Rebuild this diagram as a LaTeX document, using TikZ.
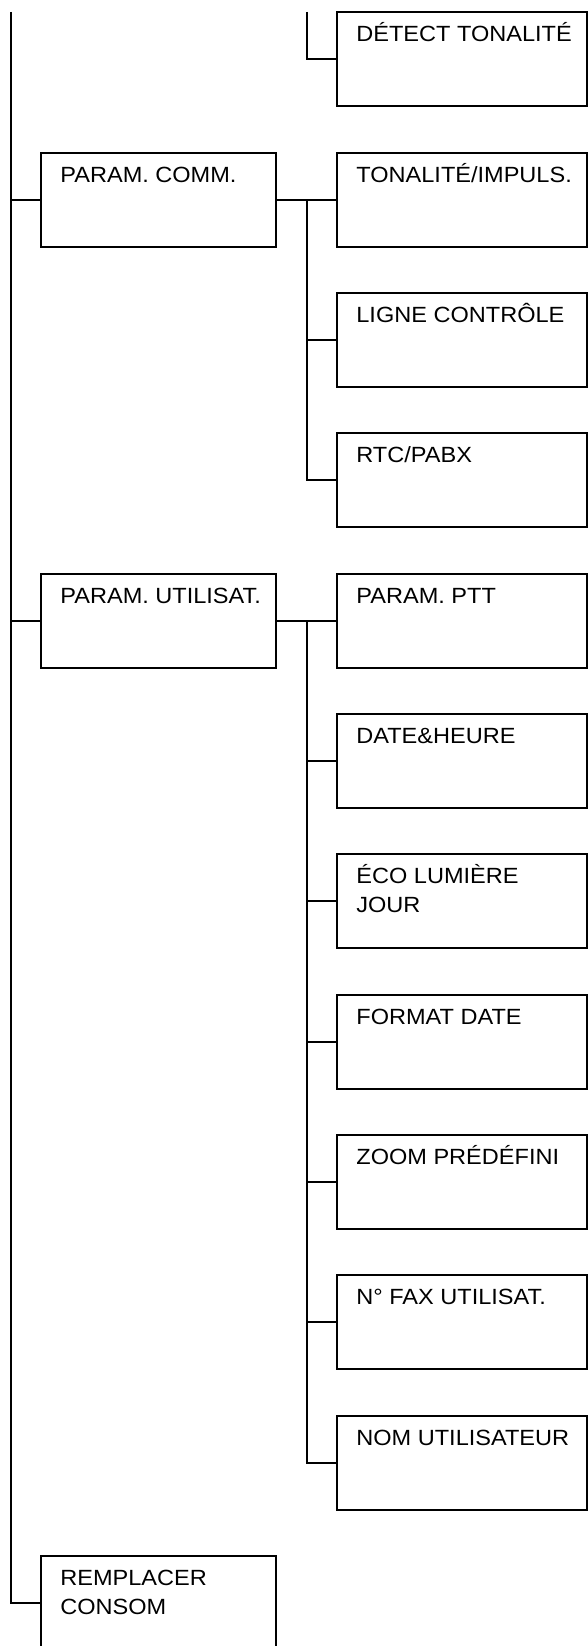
\documentclass[tikz,border=0pt]{standalone}
\usepackage{fontspec}
\setmainfont[FakeStretch=1.07]{Liberation Sans}
\begin{document}
\begin{tikzpicture}[x=1pt,y=-1pt,
  line width=1.8pt,
  rbox/.style={draw,rectangle,anchor=north west,minimum width=250pt,minimum height=94pt,inner sep=0pt,outer sep=0pt},
  lbox/.style={draw,rectangle,anchor=north west,minimum width=235pt,minimum height=94pt,inner sep=0pt,outer sep=0pt},
  txt/.style={anchor=base west,inner sep=0pt,font=\fontsize{22}{28.5}\selectfont}]
\useasboundingbox (0,0) rectangle (588,1646);
\clip (0,0) rectangle (588,1646);
% right column boxes
\node[rbox] (detect) at (337,12) {};
\node[rbox] (tonal)  at (337,153) {};
\node[rbox] (ligne)  at (337,293) {};
\node[rbox] (rtc)    at (337,433) {};
\node[rbox] (ptt)    at (337,574) {};
\node[rbox] (date)   at (337,714) {};
\node[rbox] (eco)    at (337,854) {};
\node[rbox] (fmt)    at (337,995) {};
\node[rbox] (zoom)   at (337,1135) {};
\node[rbox] (fax)    at (337,1275) {};
\node[rbox] (nom)    at (337,1416) {};
% left column boxes
\node[lbox] (comm) at (41,153) {};
\node[lbox] (util) at (41,574) {};
\node[lbox] (remp) at (41,1556) {};
% texts
\node[txt] (tdetect) at ([shift={(18.5,29.5)}]detect.north west) {DÉTECT TONALITÉ};
\node[txt] (ttonal)  at ([shift={(18.5,29.5)}]tonal.north west) {TONALITÉ/IMPULS.};
\node[txt] (tligne)  at ([shift={(18.5,29.5)}]ligne.north west) {LIGNE CONTRÔLE};
\node[txt] (trtc)    at ([shift={(18.5,29.5)}]rtc.north west) {RTC/PABX};
\node[txt] (tptt)    at ([shift={(18.5,29.5)}]ptt.north west) {PARAM. PTT};
\node[txt] (tdate)   at ([shift={(18.5,29.5)}]date.north west) {DATE\&HEURE};
\node[txt] (teco)    at ([shift={(18.5,29.5)}]eco.north west) {\begin{tabular}[t]{@{}l@{}}ÉCO LUMIÈRE\\JOUR\end{tabular}};
\node[txt] (tfmt)    at ([shift={(18.5,29.5)}]fmt.north west) {FORMAT DATE};
\node[txt] (tzoom)   at ([shift={(18.5,29.5)}]zoom.north west) {ZOOM PRÉDÉFINI};
\node[txt] (tfax)    at ([shift={(18.5,29.5)}]fax.north west) {N° FAX UTILISAT.};
\node[txt] (tnom)    at ([shift={(18.5,29.5)}]nom.north west) {NOM UTILISATEUR};
\node[txt] (tcomm)   at ([shift={(18.5,29.5)}]comm.north west) {PARAM. COMM.};
\node[txt] (tutil)   at ([shift={(18.5,29.5)}]util.north west) {PARAM. UTILISAT.};
\node[txt] (tremp)   at ([shift={(18.5,29.5)}]remp.north west) {\begin{tabular}[t]{@{}l@{}}REMPLACER\\CONSOM\end{tabular}};
% trunk lines
\coordinate (m0) at (11,12);
\coordinate (v0) at (307,12);
\coordinate (v1) at (307,0);
\draw (m0) |- (remp.west);
\draw (m0 |- comm.west) -- (comm.west);
\draw (m0 |- util.west) -- (util.west);
% top group
\draw (v0) |- (detect.west);
% COMM group
\draw (comm.east) -- (tonal.west);
\draw (v1 |- comm.east) |- (rtc.west);
\draw (v1 |- ligne.west) -- (ligne.west);
% UTIL group
\draw (util.east) -- (ptt.west);
\draw (v1 |- util.east) |- (nom.west);
\draw (v1 |- date.west) -- (date.west);
\draw (v1 |- eco.west) -- (eco.west);
\draw (v1 |- fmt.west) -- (fmt.west);
\draw (v1 |- zoom.west) -- (zoom.west);
\draw (v1 |- fax.west) -- (fax.west);
\end{tikzpicture}
\end{document}
